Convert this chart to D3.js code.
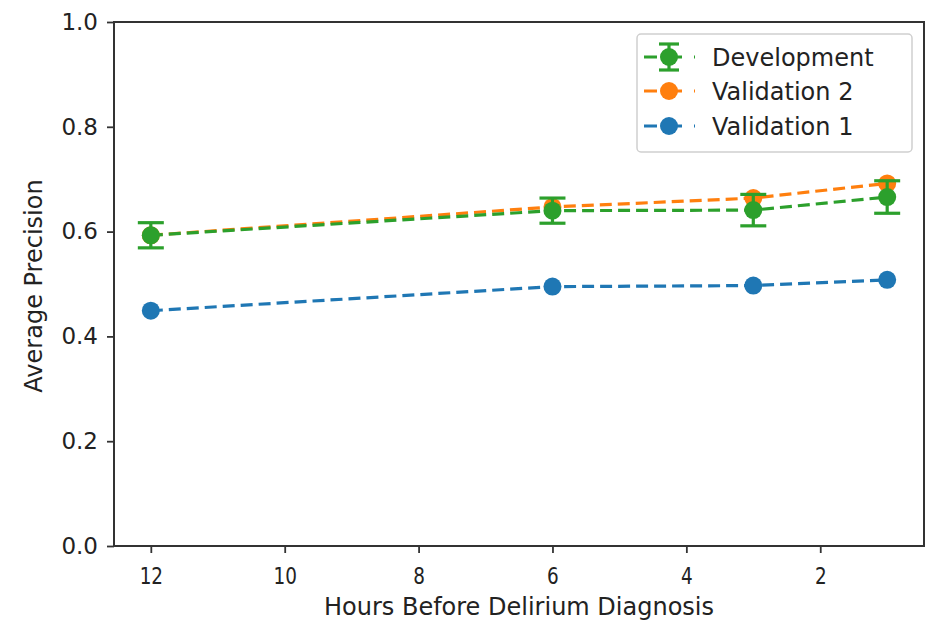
<!DOCTYPE html>
<html><head><meta charset="utf-8">
<script src="https://cdn.jsdelivr.net/npm/d3@7/dist/d3.min.js"></script>
<style>body{margin:0;background:#fff}svg{display:block}text{font-family:"DejaVu Sans",sans-serif;fill:#222}</style>
</head><body><svg id="c" width="930" height="621"></svg>
<script>
const hours = [12, 6, 3, 1];
const development = [0.593, 0.640, 0.641, 0.666];
const developmentErr = [0.024, 0.024, 0.030, 0.031];
const validation2 = [0.593, 0.647, 0.664, 0.692];
const validation1 = [0.449, 0.495, 0.497, 0.508];
const xTicks = [12, 10, 8, 6, 4, 2];
const yTicks = [0.0, 0.2, 0.4, 0.6, 0.8, 1.0];
const seriesNames = ["Development", "Validation 2", "Validation 1"];
const colors = {"Development": "#2ca02c", "Validation 2": "#ff7f0e", "Validation 1": "#1f77b4"};

const L = 114, R = 924, T = 22, B = 546;
const svg = d3.select("#c");
const x = d3.scaleLinear().domain([12.55, 0.45]).range([L, R]);
const y = d3.scaleLinear().domain([0, 1]).range([B, T]);

const line = d3.line().x(d => x(d[0])).y(d => y(d[1]));
const dash = "12,6";
const lw = 3.2, mr = 9;

function drawSeries(name, vals, err) {
  const c = colors[name];
  const pts = hours.map((h, i) => [h, vals[i]]);
  const g = svg.append("g");
  g.append("path").attr("d", line(pts)).attr("fill", "none").attr("stroke", c)
    .attr("stroke-width", lw).attr("stroke-dasharray", dash);
  if (err) {
    pts.forEach((p, i) => {
      const x0 = x(p[0]), y1 = y(p[1] + err[i]), y2 = y(p[1] - err[i]);
      g.append("line").attr("x1", x0).attr("x2", x0).attr("y1", y1).attr("y2", y2).attr("stroke", c).attr("stroke-width", lw);
      [y1, y2].forEach(yy => g.append("line").attr("x1", x0 - 13).attr("x2", x0 + 13).attr("y1", yy).attr("y2", yy).attr("stroke", c).attr("stroke-width", lw));
    });
  }
  g.selectAll("circle").data(pts).join("circle").attr("cx", d => x(d[0])).attr("cy", d => y(d[1])).attr("r", mr).attr("fill", c);
}
drawSeries("Validation 1", validation1);
drawSeries("Validation 2", validation2);
drawSeries("Development", development, developmentErr);

// frame
svg.append("rect").attr("x", L).attr("y", T).attr("width", R - L).attr("height", B - T)
  .attr("fill", "none").attr("stroke", "#333").attr("stroke-width", 2);

// axes
const xa = svg.append("g").attr("transform", `translate(0,${B})`)
  .call(d3.axisBottom(x).tickValues(xTicks).tickFormat(d3.format("d")).tickSize(7).tickPadding(0));
const ya = svg.append("g").attr("transform", `translate(${L},0)`)
  .call(d3.axisLeft(y).tickValues(yTicks).tickFormat(d3.format(".1f")).tickSize(7).tickPadding(9));
[xa, ya].forEach(a => {
  a.select(".domain").remove();
  a.selectAll("line").attr("stroke", "#333").attr("stroke-width", 1.8);
  a.selectAll("text").attr("fill", "#222").style("font-family", '"DejaVu Sans", sans-serif');
});
ya.selectAll("text").attr("font-size", 23);
xa.selectAll(".tick text").attr("font-size", 23).attr("dy", null).attr("y", 0)
  .attr("transform", "translate(0,38) scale(0.8,1)");

svg.append("text").attr("x", 519).attr("y", 615).attr("text-anchor", "middle").attr("font-size", 24).text("Hours Before Delirium Diagnosis");
svg.append("text").attr("transform", `translate(42,286) rotate(-90)`).attr("text-anchor", "middle").attr("font-size", 24).text("Average Precision");

// legend
const lg = svg.append("g");
lg.append("rect").attr("x", 637).attr("y", 34).attr("width", 275).attr("height", 118).attr("rx", 4)
  .attr("fill", "#fff").attr("fill-opacity", 0.9).attr("stroke", "#cfcfcf").attr("stroke-width", 1.5);
const ly = [57, 91, 126];
seriesNames.forEach((n, i) => {
  const c = colors[n], yy = ly[i];
  lg.append("line").attr("x1", 644).attr("x2", 695).attr("y1", yy).attr("y2", yy).attr("stroke", c).attr("stroke-width", lw).attr("stroke-dasharray", "13,12");
  if (n === "Development") {
    lg.append("line").attr("x1", 669).attr("x2", 669).attr("y1", yy - 13).attr("y2", yy + 13).attr("stroke", c).attr("stroke-width", lw);
    [yy - 13, yy + 13].forEach(v => lg.append("line").attr("x1", 659).attr("x2", 679).attr("y1", v).attr("y2", v).attr("stroke", c).attr("stroke-width", lw));
  }
  lg.append("circle").attr("cx", 669).attr("cy", yy).attr("r", mr).attr("fill", c);
  lg.append("text").attr("x", 712).attr("y", yy + 9).attr("font-size", 24).text(n);
});
</script></body></html>
